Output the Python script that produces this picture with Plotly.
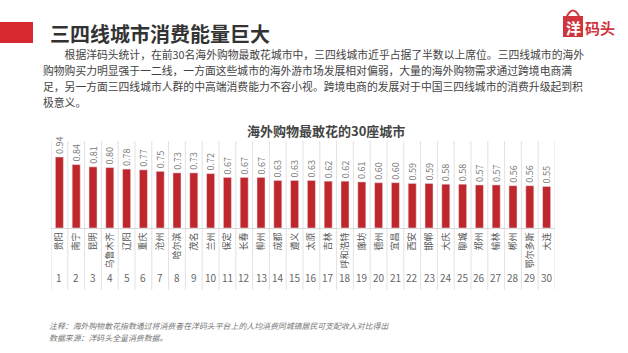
import plotly.graph_objects as go

cities = ["贵阳", "南宁", "昆明", "乌鲁木齐", "辽阳", "重庆", "沧州", "哈尔滨", "茂名", "兰州",
          "保定", "长春", "柳州", "成都", "遵义", "太原", "吉林", "呼和浩特", "廊坊", "德州",
          "宜昌", "西安", "邯郸", "大庆", "聊城", "郑州", "榆林", "郴州", "鄂尔多斯", "大连"]
values = [0.94, 0.84, 0.81, 0.80, 0.78, 0.77, 0.75, 0.73, 0.73, 0.72,
          0.67, 0.67, 0.67, 0.63, 0.63, 0.63, 0.62, 0.62, 0.61, 0.60,
          0.60, 0.59, 0.59, 0.58, 0.58, 0.57, 0.57, 0.56, 0.56, 0.55]
ranks = [str(i + 1) for i in range(len(cities))]

title = "三四线城市消费能量巨大"
chart_title = "海外购物最敢花的30座城市"
paragraph = [
    "\u3000\u3000根据洋码头统计，在前30名海外购物最敢花城市中，三四线城市近乎占据了半数以上席位。三四线城市的海外",
    "购物购买力明显强于一二线，一方面这些城市的海外游市场发展相对偏弱，大量的海外购物需求通过跨境电商满",
    "足，另一方面三四线城市人群的中高端消费能力不容小视。跨境电商的发展对于中国三四线城市的消费升级起到积",
    "极意义。",
]
notes = ["注释：海外购物敢花指数通过将消费者在洋码头平台上的人均消费同城镇居民可支配收入对比得出",
         "数据来源：洋码头全量消费数据。"]

W, H = 628, 353
L, R, T, B = 51, 555, 140, 228
FONT = "Noto Sans CJK SC"
RED = "#C0272D"


def px(x):
    return (x - L) / (R - L)


def py(y):
    return (B - y) / (B - T)


idx = list(range(len(cities)))
fig = go.Figure(go.Bar(
    x=idx, y=values, width=0.48, marker_color=RED,
    texttemplate="%{y:.2f}", textposition="outside", textangle=-90, constraintext="none",
    textfont=dict(size=9, color="#777", family=FONT), cliponaxis=False,
))

shapes = []
shapes.append(dict(type="rect", xref="paper", yref="paper", x0=px(0), x1=px(33), y0=py(43), y1=py(22),
                   fillcolor="#D8282F", line_width=0, layer="above"))
shapes.append(dict(type="rect", xref="paper", yref="paper", x0=px(563), x1=px(583), y0=py(37), y1=py(16),
                   fillcolor="#D0343C", line_width=0))
shapes.append(dict(type="path", xref="paper", yref="paper",
                   path=f"M {px(567)},{py(16)} Q {px(573)},{py(5)} {px(579)},{py(16)}",
                   line=dict(color="#D0343C", width=2)))
for i in range(len(cities) + 1):
    shapes.append(dict(type="line", xref="x", yref="paper", x0=i - 0.5, x1=i - 0.5,
                       y0=py(290), y1=py(141), line=dict(color="#E2E2E2", width=1), layer="below"))

ann = []
ann.append(dict(xref="paper", yref="paper", x=px(48), y=py(33), text=f"<b>{title}</b>", showarrow=False,
                xanchor="left", yanchor="middle", font=dict(size=20, color="#333", family=FONT)))
ann.append(dict(xref="paper", yref="paper", x=px(573), y=py(27), text="<b>洋</b>", showarrow=False,
                xanchor="center", yanchor="middle", font=dict(size=15, color="white", family=FONT)))
ann.append(dict(xref="paper", yref="paper", x=px(583), y=py(27), text="<b>码头</b>", showarrow=False,
                xanchor="left", yanchor="middle", font=dict(size=15, color="#D0343C", family=FONT)))
for k, line in enumerate(paragraph):
    ann.append(dict(xref="paper", yref="paper", x=px(41), y=py(54 + 16 * k), text=line, showarrow=False,
                    xanchor="left", yanchor="middle", font=dict(size=10.8, color="#444", family=FONT)))
ann.append(dict(xref="paper", yref="paper", x=px(326), y=py(130), text=f"<b>{chart_title}</b>", showarrow=False,
                xanchor="center", yanchor="middle", font=dict(size=13, color="#444", family=FONT)))
for i, r in zip(idx, ranks):
    ann.append(dict(xref="x", yref="paper", x=i, y=py(277), text=r, showarrow=False,
                    xanchor="center", yanchor="middle", font=dict(size=10, color="#666", family=FONT)))
for k, n in enumerate(notes):
    ann.append(dict(xref="paper", yref="paper", x=px(47), y=py(325 + 12 * k), text=f"<i>{n}</i>", showarrow=False,
                    xanchor="left", yanchor="middle", font=dict(size=7.9, color="#777", family=FONT)))

fig.update_layout(
    width=W, height=H, autosize=False,
    margin=dict(l=L, r=W - R, t=T, b=H - B, pad=0),
    paper_bgcolor="white", plot_bgcolor="white",
    showlegend=False, shapes=shapes, annotations=ann,
    xaxis=dict(range=[-0.5, len(cities) - 0.5], tickmode="array", tickvals=idx, ticktext=cities,
               tickangle=-90, showgrid=False, zeroline=False, showline=True, linecolor="#D8D8D8",
               ticks="", tickfont=dict(size=9, color="#555", family=FONT), fixedrange=True),
    yaxis=dict(range=[0, 1.165], visible=False, showgrid=False, zeroline=False, fixedrange=True),
    font=dict(family=FONT),
)

fig.write_html("out.html", config={"displayModeBar": False})
